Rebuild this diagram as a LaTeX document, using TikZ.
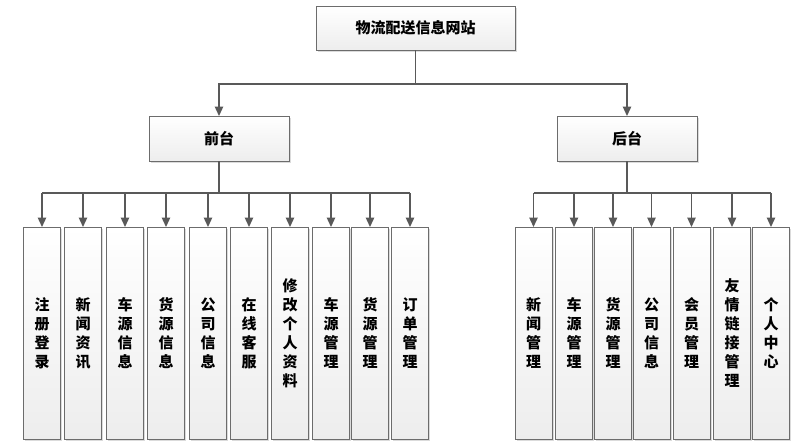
\documentclass[tikz,border=0pt]{standalone}
\usepackage{fontspec}
\setmainfont{Noto Sans CJK SC}
\usetikzlibrary{arrows.meta,shadows}

\begin{document}
\begin{tikzpicture}[%
      x=1pt, y=-1pt,
      box/.style={draw=gray!85!black, line width=1pt, top color=white,
        bottom color=gray!14, inner sep=0pt, outer sep=0pt,
        drop shadow={shadow xshift=1.5pt, shadow yshift=-1.5pt, fill=gray!35, opacity=0.8}},
      mainbox/.style={box, minimum width=199pt, minimum height=44pt,
        font=\fontsize{15}{18}\selectfont\bfseries},
      partbox/.style={box, minimum width=140pt, minimum height=45pt,
        font=\fontsize{15}{18}\selectfont\bfseries},
      itembox/.style={box, minimum width=37pt, minimum height=212pt, align=center,
        font=\fontsize{15}{19}\selectfont\bfseries},
      link/.style={draw=gray!70!black, line width=1.3pt},
      arr/.style={link, -{Triangle[width=8.5pt,length=9.5pt]}},
      ]
      \useasboundingbox (0,0) rectangle (805,447);

      % top level
      \node [mainbox] (site) at (415.5,28) {物流配送信息网站};
      \node [partbox] (front) at (219,138.5) {前台};
      \node [partbox] (back) at (627,138.5) {后台};

      \coordinate (split) at (415.5,84);
      \draw [link] (site) -- (split);
      \draw [arr] (split) -| (front);
      \draw [arr] (split) -| (back);

      % front items
      \node [itembox] (f1) at (42,333) {注\\册\\登\\录};
      \node [itembox] (f2) at (83,333) {新\\闻\\资\\讯};
      \node [itembox] (f3) at (125,333) {车\\源\\信\\息};
      \node [itembox] (f4) at (166,333) {货\\源\\信\\息};
      \node [itembox] (f5) at (208,333) {公\\司\\信\\息};
      \node [itembox] (f6) at (249,333) {在\\线\\客\\服};
      \node [itembox] (f7) at (290,333) {修\\改\\个\\人\\资\\料};
      \node [itembox] (f8) at (331,333) {车\\源\\管\\理};
      \node [itembox] (f9) at (370,333) {货\\源\\管\\理};
      \node [itembox] (f10) at (410,333) {订\\单\\管\\理};

      % back items
      \node [itembox] (b1) at (533.5,333) {新\\闻\\管\\理};
      \node [itembox] (b2) at (574,333) {车\\源\\管\\理};
      \node [itembox] (b3) at (613,333) {货\\源\\管\\理};
      \node [itembox] (b4) at (651.5,333) {公\\司\\信\\息};
      \node [itembox] (b5) at (691.5,333) {会\\员\\管\\理};
      \node [itembox] (b6) at (732,333) {友\\情\\链\\接\\管\\理};
      \node [itembox] (b7) at (771,333) {个\\人\\中\\心};

      % front bus
      \coordinate (fbus) at (219,193);
      \draw [link] (front) -- (fbus);
      \draw [link] (fbus -| f1) -- (fbus -| f10);
      \draw [arr] (fbus -| f1) -- (f1);
      \draw [arr] (fbus -| f2) -- (f2);
      \draw [arr] (fbus -| f3) -- (f3);
      \draw [arr] (fbus -| f4) -- (f4);
      \draw [arr] (fbus -| f5) -- (f5);
      \draw [arr] (fbus -| f6) -- (f6);
      \draw [arr] (fbus -| f7) -- (f7);
      \draw [arr] (fbus -| f8) -- (f8);
      \draw [arr] (fbus -| f9) -- (f9);
      \draw [arr] (fbus -| f10) -- (f10);

      % back bus
      \coordinate (bbus) at (627,193);
      \draw [link] (back) -- (bbus);
      \draw [link] (bbus -| b1) -- (bbus -| b7);
      \draw [arr] (bbus -| b1) -- (b1);
      \draw [arr] (bbus -| b2) -- (b2);
      \draw [arr] (bbus -| b3) -- (b3);
      \draw [arr] (bbus -| b4) -- (b4);
      \draw [arr] (bbus -| b5) -- (b5);
      \draw [arr] (bbus -| b6) -- (b6);
      \draw [arr] (bbus -| b7) -- (b7);
\end{tikzpicture}
\end{document}
